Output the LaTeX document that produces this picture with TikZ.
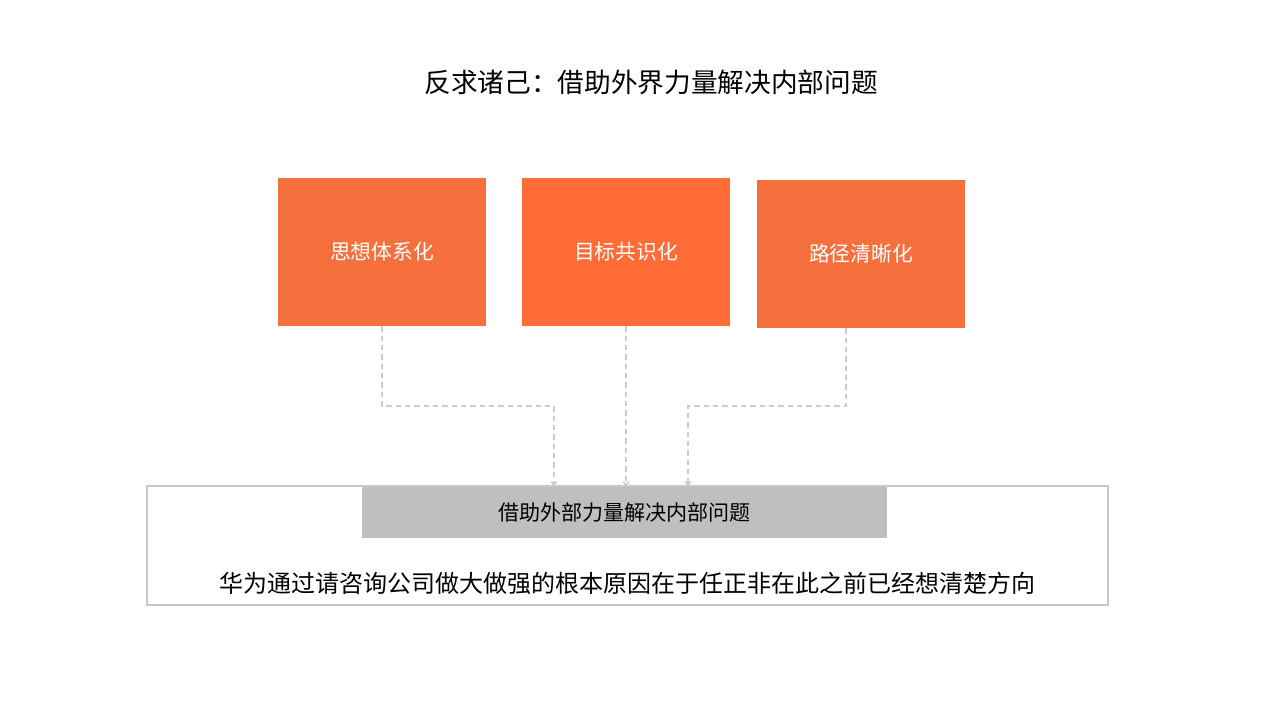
\documentclass[tikz,border=0pt]{standalone}
\usepackage{fontspec}
\setmainfont{Noto Sans CJK SC}
\newfontfamily\cjk{Noto Sans CJK SC}
\usetikzlibrary{arrows.meta}
\definecolor{orA}{HTML}{F6703E}
\definecolor{orB}{HTML}{FF6C35}
\definecolor{barG}{HTML}{BFBFBF}
\definecolor{lineG}{HTML}{CCCCCC}
\definecolor{frameG}{HTML}{C8C8C8}
\begin{document}
\begin{tikzpicture}[x=0.75pt,y=-0.75pt,
  obox/.style={fill=orA, draw=none, minimum width=208*0.75pt, minimum height=148*0.75pt, inner sep=0pt, text=white, font=\cjk\fontsize{15.6pt}{18pt}\selectfont},
  conn/.style={draw=lineG, line width=1.2pt, dash pattern=on 4pt off 3pt, -{Straight Barb[length=3pt,width=4pt]}}
]
\useasboundingbox[fill=white] (0,0) rectangle (1280,720);
\node[font=\cjk\fontsize{20pt}{24pt}\selectfont, text=black] (title) at (651,82) {反求诸己：借助外界力量解决内部问题};
\node[obox] (b1) at (382,252) {思想体系化};
\node[obox, fill=orB] (b2) at (626,252) {目标共识化};
\node[obox] (b3) at (861,254) {路径清晰化};
\node[draw=frameG, line width=0.9pt, minimum width=961*0.75pt, minimum height=119*0.75pt, inner sep=0pt] (frame) at (627.5,545.5) {};
\node[fill=barG, minimum width=525*0.75pt, minimum height=51*0.75pt, inner sep=0pt, font=\cjk\fontsize{15.8pt}{18pt}\selectfont] (bar) at (624.5,512.5) {借助外部力量解决内部问题};
\node[font=\cjk\fontsize{18pt}{22pt}\selectfont] (bottom) at (627,583) {华为通过请咨询公司做大做强的根本原因在于任正非在此之前已经想清楚方向};
\coordinate (c1) at (382,406);
\coordinate (c1b) at (554,406);
\coordinate (c3) at (846,406);
\coordinate (c3b) at (688,406);
\coordinate (e1) at (554,487);
\coordinate (e2) at (626,487);
\coordinate (e3) at (688,487);
\draw[conn] (b1.south) -- (c1) -- (c1b) -- (e1);
\draw[conn] (b2.south) -- (e2);
\draw[conn] (b3.south -| c3) -- (c3) -- (c3b) -- (e3);
\end{tikzpicture}
\end{document}
